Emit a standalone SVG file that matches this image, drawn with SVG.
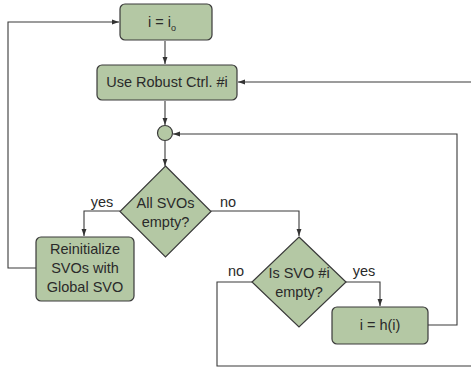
<svg xmlns="http://www.w3.org/2000/svg" width="471" height="370" viewBox="0 0 471 370">
<defs>
<marker id="ah" viewBox="0 0 10 10" refX="10" refY="5" markerWidth="7" markerHeight="7" orient="auto" markerUnits="userSpaceOnUse">
<path d="M0,1.5 L10,5 L0,8.5 z" fill="#333"/>
</marker>
<style>
.n{fill:#b4c8a4;stroke:#3a3a3a;stroke-width:1.2}
.t{font-family:"Liberation Sans",Arial,sans-serif;font-size:14.5px;fill:#2a2a2a;text-anchor:middle}
.c{fill:none;stroke:#3a3a3a;stroke-width:1.1}
</style>
</defs>
<rect width="471" height="370" fill="#fff"/>
<g id="connectors">
<path class="c" d="M165,41 V64" marker-end="url(#ah)"/>
<path class="c" d="M165,101 V125" marker-end="url(#ah)"/>
<path class="c" d="M165,141 V166" marker-end="url(#ah)"/>
<path class="c" d="M471,82 H238" marker-end="url(#ah)"/>
<path class="c" d="M120,211 H84 V236" marker-end="url(#ah)"/>
<path class="c" d="M36,268 H8 V22 H119" marker-end="url(#ah)"/>
<path class="c" d="M211,211 H299 V236" marker-end="url(#ah)"/>
<path class="c" d="M346,282 H380 V306" marker-end="url(#ah)"/>
<path class="c" d="M428,325 H457 V134 H173" marker-end="url(#ah)"/>
<path class="c" d="M252,282 H217 V366 H471"/>
<text class="t" x="102" y="207">yes</text>
<text class="t" x="228" y="207">no</text>
<text class="t" x="236" y="276">no</text>
<text class="t" x="364" y="276">yes</text>
</g>
<g id="init">
<rect class="n" x="120" y="4" width="92" height="36" rx="5"/>
<text class="t" x="162" y="27">i = i<tspan font-size="9" dy="4">o</tspan></text>
</g>
<g id="robust">
<rect class="n" x="97" y="65" width="140" height="35" rx="5"/>
<text class="t" x="167" y="87">Use Robust Ctrl. #i</text>
</g>
<g id="junction">
<circle class="n" cx="165" cy="133" r="7.5"/>
</g>
<g id="allempty">
<path class="n" d="M165.5,166 L211,211.5 L165.5,257 L120,211.5 Z"/>
<text class="t" x="165.5" y="208">All SVOs</text>
<text class="t" x="165.5" y="227">empty?</text>
</g>
<g id="reinit">
<rect class="n" x="36" y="237" width="98" height="64" rx="5"/>
<text class="t" x="85" y="254">Reinitialize</text>
<text class="t" x="85" y="273">SVOs with</text>
<text class="t" x="85" y="292">Global SVO</text>
</g>
<g id="svoempty">
<path class="n" d="M299,237 L346,282 L299,327 L252,282 Z"/>
<text class="t" x="299" y="278">Is SVO #i</text>
<text class="t" x="299" y="297">empty?</text>
</g>
<g id="next">
<rect class="n" x="332" y="307" width="96" height="37" rx="5"/>
<text class="t" x="380" y="330">i = h(i)</text>
</g>
</svg>
